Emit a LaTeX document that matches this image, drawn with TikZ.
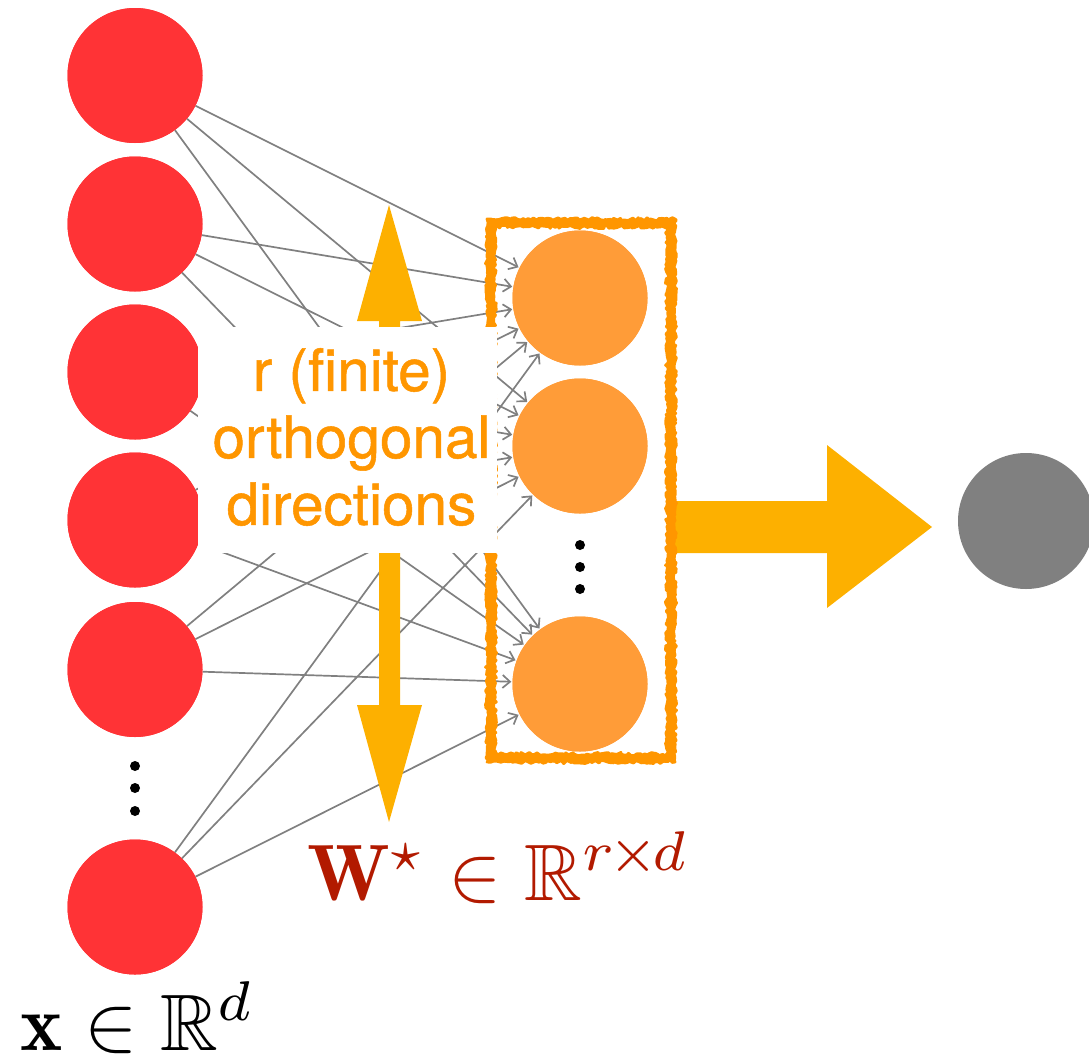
\documentclass[tikz,border=0pt]{standalone}
\usepackage{amsmath,amssymb}
\usepackage{fontspec}
\newfontfamily\labelfont[FakeBold=0.9]{TeX Gyre Heros}
\usetikzlibrary{arrows.meta,decorations.pathmorphing}

\definecolor{inred}{RGB}{255,51,54}
\definecolor{hidorange}{RGB}{255,156,56}
\definecolor{boxorange}{RGB}{255,150,0}
\definecolor{txtorange}{RGB}{255,150,0}
\definecolor{arrowyellow}{RGB}{253,176,0}
\definecolor{outgray}{RGB}{128,128,128}
\definecolor{edgegray}{RGB}{128,128,128}
\definecolor{wred}{RGB}{178,26,0}

\begin{document}
\begin{tikzpicture}[x=1pt,y=-1pt,
  inode/.style={circle,fill=inred,minimum size=135pt,inner sep=0pt},
  hnode/.style={circle,fill=hidorange,minimum size=135pt,inner sep=0pt},
  onode/.style={circle,fill=outgray,minimum size=136pt,inner sep=0pt},
  vdot/.style={circle,fill=black,minimum size=10pt,inner sep=0pt},
  edge/.style={draw=edgegray,line width=1.7pt,
    -{Straight Barb[length=7.5pt,width=13pt]},shorten >=1pt},
  bigarrow/.style={fill=arrowyellow},
  sketch/.style={boxorange,line width=2.8pt,line join=round,decorate,
    decoration={random steps,segment length=2.5pt,amplitude=1.6pt}},
]
\useasboundingbox (0,0) rectangle (1089,1060);
\pgfmathsetseed{11}

% input layer
\node[inode] (in1) at (135,75.5) {};
\node[inode] (in2) at (135,224) {};
\node[inode] (in3) at (135,372) {};
\node[inode] (in4) at (135,520) {};
\node[inode] (in5) at (135,669.5) {};
\node[inode] (in6) at (135,907) {};
\node[vdot] (ldot1) at (135,766) {};
\node[vdot] (ldot2) at (135,788) {};
\node[vdot] (ldot3) at (135,811) {};

% hidden layer
\node[hnode] (hid1) at (580,298) {};
\node[hnode] (hid2) at (580,446) {};
\node[hnode] (hid3) at (580,684) {};
\node[vdot] (hdot1) at (580,545) {};
\node[vdot] (hdot2) at (580,567) {};
\node[vdot] (hdot3) at (580,589) {};

% full connections
\foreach \i in {1,...,6}
  \foreach \j in {1,2,3}
    \draw[edge] (in\i) -- (hid\j);

% redraw the circles over the line starts
\foreach \i/\y in {1/75.5,2/224,3/372,4/520,5/669.5,6/907}
  \fill[inred] (135,\y) circle (67.5);
\foreach \j/\y in {1/298,2/446,3/684}
  \fill[hidorange] (580,\y) circle (67.5);

% directions arrows
\fill[bigarrow] (379,340) -- (379,321) -- (357,321) -- (389,205)
  -- (422,321) -- (400,321) -- (400,340) -- cycle;
\fill[bigarrow] (379,540) -- (379,705) -- (357,705) -- (389,822)
  -- (422,705) -- (400,705) -- (400,540) -- cycle;

% output arrow
\fill[bigarrow] (671,501) -- (827,501) -- (827,445) -- (932,527)
  -- (827,608) -- (827,553) -- (671,553) -- cycle;

% hand-drawn frame round the hidden layer
\draw[boxorange,line width=8pt] (491,223) -- (671,223) -- (671,758) -- (491,758) -- cycle;
\draw[sketch] (487,219) -- (675,219) -- (675,762) -- (487,762) -- cycle;
\draw[sketch] (495,227) -- (667,227) -- (667,754) -- (495,754) -- cycle;
\draw[sketch] (489,221) -- (673,221) -- (673,760) -- (489,760) -- cycle;

% label panel
\node[fill=white,minimum width=299pt,minimum height=226pt,inner sep=0pt] (lblbox) at (347.5,440) {};
\node[text=txtorange,align=center,inner sep=0pt,
  font=\labelfont\fontsize{58.5}{67}\selectfont] (lbl) at (351.5,437)
  {r (finite)\\orthogonal\\directions};

% output unit
\node[onode] (out) at (1026,521) {};

% formulas
\node[anchor=base west,inner sep=0pt,text=wred] (wlab) at (307,900)
  {\scalebox{8}{$\mathbf{W}^{\star}\in\mathbb{R}^{r\mkern-1.5mu\times\mkern-1.5mu d}$}};
\node[anchor=base west,inner sep=0pt,text=black] (xlab) at (20,1050)
  {\scalebox{8}{$\mathbf{x}\in\mathbb{R}^{d}$}};
\end{tikzpicture}
\end{document}
